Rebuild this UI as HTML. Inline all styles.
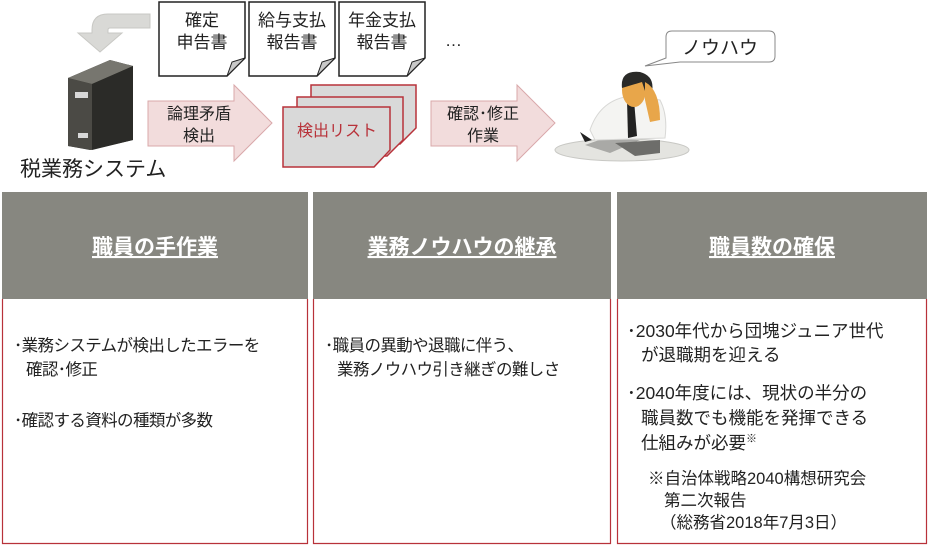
<!DOCTYPE html>
<html><head><meta charset="utf-8"><style>
body{margin:0;background:#fff}
svg text{font-family:"Liberation Sans","Noto Sans CJK JP",sans-serif;}
</style></head><body>
<svg width="929" height="546" viewBox="0 0 929 546" xmlns="http://www.w3.org/2000/svg">
<path d="M150,14 L108,14 Q92,14 92,30 L92,33 L78,33 L100,52 L122,33 L108,33 L108,30 Q108,28 110,28 L150,28 Z" fill="#d9d9d6" stroke="#c8c8c4" stroke-width="1"/>
<polygon points="68,78 110,60 133,66 133,140 90,150 68,146" fill="#3a3a36"/>
<polygon points="68,78 110,60 133,66 92,84" fill="#77766f"/>
<polygon points="92,84 133,66 133,140 92,150" fill="#2b2b28"/>
<polygon points="68,78 92,84 92,150 68,146" fill="#4b4a45"/>
<rect x="75" y="92" width="13" height="6" fill="#d8d8d8"/>
<rect x="78" y="133" width="10" height="5" fill="#d8d8d8"/>
<text x="20" y="176" font-size="21" fill="#222">税業務システム</text>
<g stroke="#222" stroke-width="1.5" fill="#fff">
<path d="M159,2 L245,2 L245,58 L227,76 L159,76 Z"/>
<path d="M249,2 L335,2 L335,58 L317,76 L249,76 Z"/>
<path d="M339,2 L425,2 L425,58 L407,76 L339,76 Z"/>
</g>
<g fill="#c8c8c8" stroke="#222" stroke-width="1">
<path d="M227,76 L232,62 L245,58 Z"/><path d="M317,76 L322,62 L335,58 Z"/><path d="M407,76 L412,62 L425,58 Z"/>
</g>
<g font-size="17" fill="#222" text-anchor="middle">
<text x="202" y="26">確定</text><text x="202" y="48">申告書</text>
<text x="292" y="26">給与支払</text><text x="292" y="48">報告書</text>
<text x="382" y="26">年金支払</text><text x="382" y="48">報告書</text>
</g>
<text x="445" y="46" font-size="17" fill="#222">…</text>
<g fill="#f2dcdc" stroke="#d9a8aa" stroke-width="1">
<path d="M148,101 L234,101 L234,85 L272,123 L234,161 L234,146 L148,146 Z"/>
<path d="M431,101 L517,101 L517,85 L555,123 L517,161 L517,146 L431,146 Z"/>
</g>
<g font-size="16" fill="#222" text-anchor="middle">
<text x="199" y="119">論理矛盾</text><text x="199" y="141">検出</text>
<text x="483" y="119">確認･修正</text><text x="483" y="141">作業</text>
</g>
<g fill="#d9d9d9" stroke="#b8323a" stroke-width="1.5">
<path d="M311,85 L416,85 L416,128 L400,144 L311,144 Z"/>
<path d="M297,97 L403,97 L403,140 L387,156 L297,156 Z"/>
<path d="M283,107 L390,107 L390,150 L374,167 L283,167 Z"/>
</g>
<text x="337" y="136" font-size="16" fill="#b8323a" text-anchor="middle">検出リスト</text>
<ellipse cx="622" cy="150" rx="67" ry="11" fill="#e4e4e0" stroke="#c8c8c4"/>
<path d="M585,145 L605,138 L640,140 L610,153 Z" fill="#a9a9a6"/>
<path d="M615,143 L660,140 L660,153 L635,156 Z" fill="#6d6d6a"/>
<path d="M590,130 Q600,100 630,96 L660,100 Q668,115 665,138 L595,140 Z" fill="#f4f4f2" stroke="#d8d8d6"/>
<path d="M627,100 L634,100 L637,136 L628,138 Z" fill="#222"/>
<ellipse cx="634" cy="90" rx="12" ry="17" fill="#e8a64a"/>
<path d="M622,88 Q620,70 640,72 Q655,76 652,92 L648,100 L642,82 Z" fill="#2a2a28"/>
<path d="M645,82 Q660,90 660,120 L650,122 L645,100 Z" fill="#e8a64a"/>
<path d="M580,132 L585,142 L592,140 Z" fill="#222"/>
<path d="M674,31 L769,31 Q775,31 775,37 L775,56 Q775,62 769,62 L680,62 L645,66 L666,58 L666,37 Q666,31 672,31 Z" fill="#fff" stroke="#888" stroke-width="1"/>
<text x="720" y="54" font-size="19" fill="#222" text-anchor="middle">ノウハウ</text>
<g fill="#878780">
<rect x="2" y="192" width="306" height="107"/>
<rect x="313" y="192" width="298" height="107"/>
<rect x="617" y="192" width="310" height="107"/>
</g>
<g fill="none" stroke="#b8323a" stroke-width="1.2">
<path d="M2.5,299 L2.5,543.5 L307.5,543.5 L307.5,299"/>
<path d="M313.5,299 L313.5,543.5 L610.5,543.5 L610.5,299"/>
<path d="M617.5,299 L617.5,543.5 L926.5,543.5 L926.5,299"/>
</g>
<g font-size="21" font-weight="bold" fill="#fff" text-anchor="middle" text-decoration="underline">
<text x="155" y="254">職員の手作業</text>
<text x="462" y="254">業務ノウハウの継承</text>
<text x="772" y="254">職員数の確保</text>
</g>
<g font-size="16.5" fill="#222" letter-spacing="-0.6">
<text x="14" y="351">･業務システムが検出したエラーを</text>
<text x="26" y="375">確認･修正</text>
<text x="14" y="426">･確認する資料の種類が多数</text>
<text x="325" y="351">･職員の異動や退職に伴う、</text>
<text x="337" y="375">業務ノウハウ引き継ぎの難しさ</text>
</g>
<g font-size="17.5" fill="#222">
<text x="627" y="337">･2030年代から団塊ジュニア世代</text>
<text x="641" y="361">が退職期を迎える</text>
<text x="627" y="399">･2040年度には、現状の半分の</text>
<text x="641" y="424">職員数でも機能を発揮できる</text>
<text x="641" y="449">仕組みが必要<tspan font-size="11" dy="-7">※</tspan></text>
</g>
<g font-size="16.5" fill="#222">
<text x="648" y="484">※自治体戦略2040構想研究会</text>
<text x="664" y="506">第二次報告</text>
<text x="660" y="528">（総務省2018年7月3日）</text>
</g>
</svg>
</body></html>
